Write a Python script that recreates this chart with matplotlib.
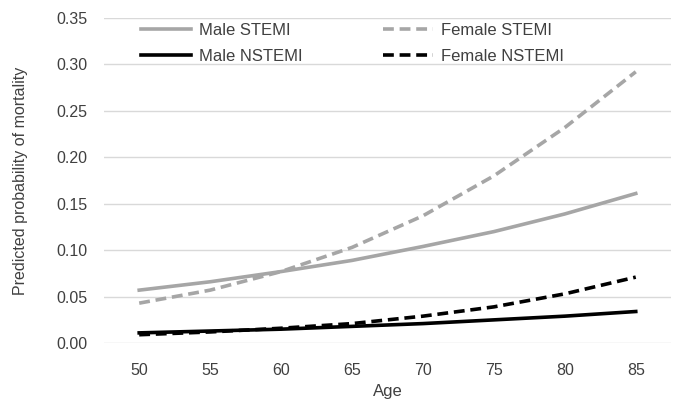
import matplotlib.pyplot as plt

ages = ["50", "55", "60", "65", "70", "75", "80", "85"]
male_stemi = [0.057, 0.066, 0.077, 0.089, 0.104, 0.120, 0.139, 0.161]
female_stemi = [0.043, 0.057, 0.077, 0.103, 0.137, 0.180, 0.232, 0.292]
male_nstemi = [0.011, 0.013, 0.015, 0.018, 0.021, 0.025, 0.029, 0.034]
female_nstemi = [0.009, 0.012, 0.016, 0.021, 0.029, 0.039, 0.053, 0.071]

plt.rcParams["font.family"] = ["Liberation Sans", "DejaVu Sans"]

fig = plt.figure(figsize=(6.78, 4.07), dpi=100)
ax = fig.add_axes([0.153, 0.157, 0.837, 0.799])

gray = "#a6a6a6"
x = range(len(ages))
h1, = ax.plot(x, male_stemi, color=gray, lw=2.6, label="Male STEMI")
h2, = ax.plot(x, female_stemi, color=gray, lw=2.6, ls=(0, (3, 1.6)), label="Female STEMI")
h3, = ax.plot(x, male_nstemi, color="black", lw=2.6, label="Male NSTEMI")
h4, = ax.plot(x, female_nstemi, color="black", lw=2.6, ls=(0, (3, 1.6)), label="Female NSTEMI")

ax.set_xlim(-0.5, len(ages) - 0.5)
ax.set_ylim(0, 0.35)
ax.set_xticks(list(x))
ax.set_xticklabels(ages)
ax.set_yticks([i * 0.05 for i in range(8)])
ax.set_yticklabels([f"{i * 0.05:.2f}" for i in range(8)])
ax.tick_params(length=0, labelsize=11.5, colors="#404040", pad=12)
ax.tick_params(axis="x", pad=14)
ax.grid(axis="y", color="#d9d9d9", lw=1)
ax.set_axisbelow(True)
for s in ax.spines.values():
    s.set_visible(False)

ax.set_xlabel("Age", fontsize=12, color="#404040", labelpad=5)
ax.set_ylabel("Predicted probability of mortality", fontsize=11.5, color="#404040", labelpad=20)

ax.legend([h1, h3, h2, h4], ["Male STEMI", "Male NSTEMI", "Female STEMI", "Female NSTEMI"],
          ncol=2, loc="upper left", bbox_to_anchor=(0.04, 1.03), frameon=False,
          fontsize=12, handlelength=3.0, handletextpad=0.45, columnspacing=4.85,
          labelspacing=0.67, labelcolor="#404040")

fig.savefig("out.png", dpi=100)
